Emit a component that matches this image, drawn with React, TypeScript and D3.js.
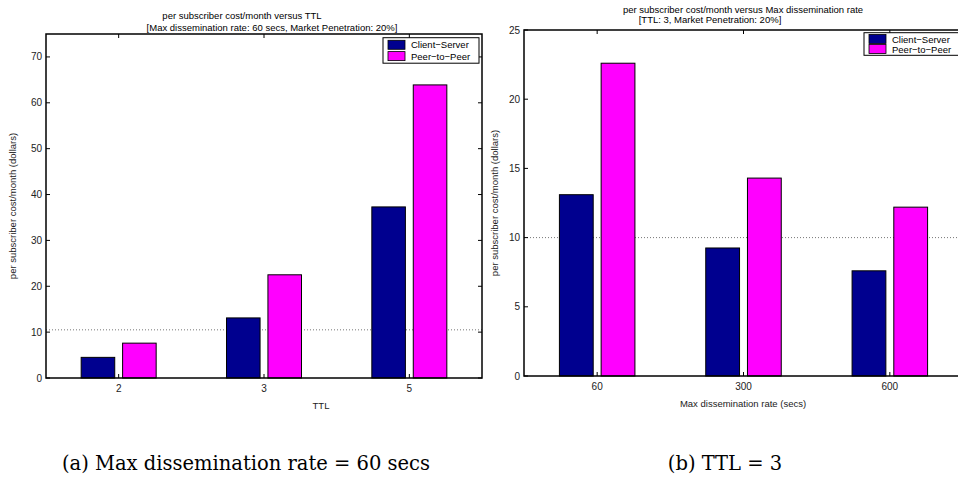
import React, { useEffect, useRef } from 'react';
import * as d3 from 'd3';

// panel (a): cost vs TTL
const ttlCategories = ['2', '3', '5'];
const ttlClientServer = [4.5, 13.1, 37.3];
const ttlPeerToPeer = [7.6, 22.5, 63.9];
const ttlTicks = [0, 10, 20, 30, 40, 50, 60, 70];

// panel (b): cost vs max dissemination rate
const rateCategories = ['60', '300', '600'];
const rateClientServer = [13.1, 9.25, 7.6];
const ratePeerToPeer = [22.6, 14.3, 12.2];
const rateTicks = [0, 5, 10, 15, 20, 25];

const seriesNames = ['Client\u2212Server', 'Peer\u2212to\u2212Peer'];
const seriesColors = ['#00008f', '#ff00ff'];

const FONT = '"Liberation Sans", Arial, Helvetica, sans-serif';

const drawPanel = (svg, cfg) => {
  const { x0, x1, y0, y1 } = cfg;
  const g = svg.append('g');

  const x = d3.scaleBand().domain(cfg.categories).range([x0, x1]).padding(0);
  const step = x.step();
  const inner = d3.scaleBand()
    .domain(['cs', 'p2p'])
    .range([-0.258 * step, 0.258 * step])
    .paddingInner(0.19);
  const y = d3.scaleLinear().domain([0, cfg.ymax]).range([y1, y0]);

  // reference dotted line
  g.append('line')
    .attr('x1', x0).attr('x2', x1)
    .attr('y1', y(cfg.refLine)).attr('y2', y(cfg.refLine))
    .attr('stroke', '#777')
    .attr('stroke-width', 1)
    .attr('stroke-dasharray', '1,2');

  // bars
  cfg.categories.forEach((c, i) => {
    const cx = x(c) + step / 2;
    [['cs', cfg.cs[i], 0], ['p2p', cfg.p2p[i], 1]].forEach(([k, v, s]) => {
      g.append('rect')
        .attr('x', cx + inner(k))
        .attr('y', y(v))
        .attr('width', inner.bandwidth())
        .attr('height', y(0) - y(v))
        .attr('fill', seriesColors[s])
        .attr('stroke', '#000')
        .attr('stroke-width', 1);
    });
  });

  // axes box
  g.append('rect')
    .attr('x', x0).attr('y', y0)
    .attr('width', x1 - x0).attr('height', y1 - y0)
    .attr('fill', 'none')
    .attr('stroke', '#000')
    .attr('stroke-width', 1.5);

  // y ticks (inside, both sides) + labels
  cfg.yTicks.forEach(t => {
    const ty = y(t);
    g.append('line').attr('x1', x0).attr('x2', x0 + 4).attr('y1', ty).attr('y2', ty).attr('stroke', '#000');
    g.append('line').attr('x1', x1).attr('x2', x1 - 4).attr('y1', ty).attr('y2', ty).attr('stroke', '#000');
    g.append('text')
      .attr('x', x0 - 4)
      .attr('y', ty + 3.5)
      .attr('text-anchor', 'end')
      .attr('font-size', '10px')
      .attr('font-family', FONT)
      .attr('fill', '#222')
      .text(t);
  });

  // x ticks + labels
  cfg.categories.forEach(c => {
    const tx = x(c) + step / 2;
    g.append('line').attr('x1', tx).attr('x2', tx).attr('y1', y1).attr('y2', y1 - 4).attr('stroke', '#000');
    g.append('line').attr('x1', tx).attr('x2', tx).attr('y1', y0).attr('y2', y0 + 4).attr('stroke', '#000');
    g.append('text')
      .attr('x', tx)
      .attr('y', y1 + 14)
      .attr('text-anchor', 'middle')
      .attr('font-size', '10px')
      .attr('font-family', FONT)
      .attr('fill', '#222')
      .text(c);
  });

  // legend
  const lw = 96, lh = cfg.legendH;
  const lx = x1 - 3 - lw, ly = y0 + cfg.legendTop;
  g.append('rect')
    .attr('x', lx).attr('y', ly).attr('width', lw).attr('height', lh)
    .attr('fill', '#fff').attr('stroke', '#000').attr('stroke-width', 1);
  seriesNames.forEach((name, i) => {
    const ry = ly + lh / 2 + (i - 0.5) * cfg.legendGap;
    g.append('rect')
      .attr('x', lx + 5).attr('y', ry - 4.5).attr('width', 17).attr('height', 9)
      .attr('fill', seriesColors[i]).attr('stroke', '#000').attr('stroke-width', 0.8);
    g.append('text')
      .attr('x', lx + 28)
      .attr('y', ry + 3.5)
      .attr('font-size', '9.5px')
      .attr('font-family', FONT)
      .attr('fill', '#000')
      .text(name);
  });

  // titles and labels
  cfg.titles.forEach(([t, tx, ty]) => {
    g.append('text')
      .attr('x', tx).attr('y', ty)
      .attr('text-anchor', 'middle')
      .attr('font-size', '9.5px')
      .attr('font-family', FONT)
      .attr('fill', '#000')
      .text(t);
  });
  g.append('text')
    .attr('x', cfg.xLabelX).attr('y', y1 + 31)
    .attr('text-anchor', 'middle')
    .attr('font-size', '9.5px')
    .attr('font-family', FONT)
    .attr('fill', '#222')
    .text(cfg.xLabel);
  g.append('text')
    .attr('transform', `translate(${cfg.yLabelX},${(y0 + y1) / 2}) rotate(-90)`)
    .attr('text-anchor', 'middle')
    .attr('font-size', '9.5px')
    .attr('font-family', FONT)
    .attr('fill', '#222')
    .text('per subscriber cost/month (dollars)');

  // caption
  g.append('text')
    .attr('x', cfg.captionX).attr('y', 470)
    .attr('text-anchor', 'middle')
    .attr('font-size', '19.5px')
    .attr('font-family', '"DejaVu Serif", "Liberation Serif", serif')
    .attr('fill', '#000')
    .text(cfg.caption);
};

const App = () => {
  const svgRef = useRef(null);

  useEffect(() => {
    if (!svgRef.current) return;
    d3.select(svgRef.current).selectAll('*').remove();

    const svg = d3.select(svgRef.current)
      .attr('width', 958)
      .attr('height', 478)
      .style('background', '#fff');

    drawPanel(svg, {
      x0: 46, x1: 482, y0: 34, y1: 378, ymax: 75,
      categories: ttlCategories, cs: ttlClientServer, p2p: ttlPeerToPeer,
      yTicks: ttlTicks, refLine: 10.5,
      legendTop: 3.7, legendH: 25.5, legendGap: 11.3,
      titles: [
        ['per subscriber cost/month versus TTL', 242, 19],
        ['[Max dissemination rate: 60 secs, Market Penetration: 20%]', 272, 31],
      ],
      xLabel: 'TTL', xLabelX: 321, yLabelX: 16,
      caption: '(a) Max dissemination rate = 60 secs', captionX: 246,
    });

    drawPanel(svg, {
      x0: 524, x1: 963, y0: 30, y1: 376, ymax: 25,
      categories: rateCategories, cs: rateClientServer, p2p: ratePeerToPeer,
      yTicks: rateTicks, refLine: 10,
      legendTop: 2.7, legendH: 22.6, legendGap: 10,
      titles: [
        ['per subscriber cost/month versus Max dissemination rate', 743, 13],
        ['[TTL: 3, Market Penetration: 20%]', 710, 23],
      ],
      xLabel: 'Max dissemination rate (secs)', xLabelX: 743, yLabelX: 498,
      caption: '(b) TTL = 3', captionX: 725,
    });
  }, []);

  return (
    <div style={{ position: 'absolute', left: 0, top: 0 }}>
      <svg ref={svgRef} style={{ display: 'block' }}></svg>
    </div>
  );
};

export default App;
